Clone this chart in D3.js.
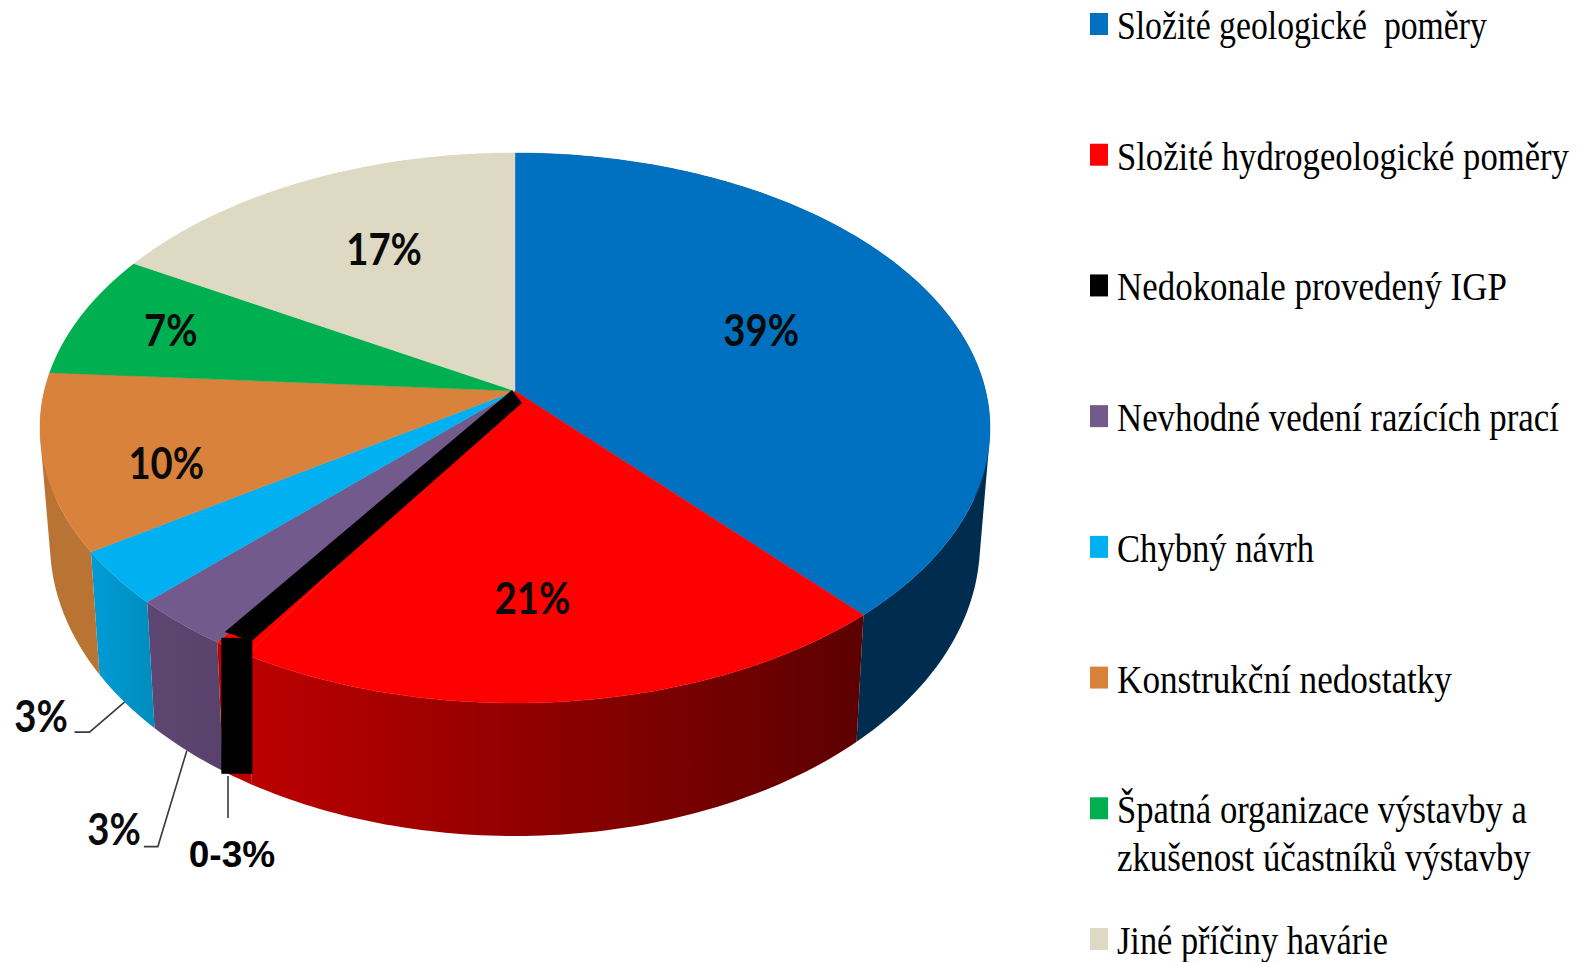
<!DOCTYPE html>
<html>
<head>
<meta charset="utf-8">
<script src="https://cdn.jsdelivr.net/npm/d3@7"></script>
<style>
    html, body { margin: 0; padding: 0; background: #fff; }
    svg { display: block; }
</style>
</head>
<body>
<svg id="chart" width="1581" height="962"></svg>
<script>
// slices (the printed labels are rounded and add up to more than 100)
const categories = [
    'Složité geologické  poměry',
    'Složité hydrogeologické poměry',
    'Nedokonale provedený IGP',
    'Nevhodné vedení razících prací',
    'Chybný návrh',
    'Konstrukční nedostatky',
    'Špatná organizace výstavby a|zkušenost účastníků výstavby',
    'Jiné příčiny havárie'
];
const sliceValues = [38.4, 20.0, 1.1, 3.0, 3.2, 10.4, 7.3, 16.6];
const sliceLabels = ['39%', '21%', '0-3%', '3%', '3%', '10%', '7%', '17%'];
const legendColors = ['#0070c0', '#ff0000', '#000000', '#725a8c', '#00b0f0', '#d9823c', '#00b050', '#ddd9c3'];
// the black slice is red underneath, the black is painted over it further down
const topColors = ['#0070c0', '#ff0000', '#ff0000', '#725a8c', '#00b0f0', '#d9823c', '#00b050', '#ddd9c3'];
const wallColors = [
    ['#002d4f', '#002d4f'],
    ['#bc0000', '#5c0000'],
    ['#bc0000', '#bc0000'],
    ['#5e4672', '#58426a'],
    ['#009cd6', '#008cbc'],
    ['#b97434', '#b97434'],
    ['#00b050', '#00b050'],
    ['#ddd9c3', '#ddd9c3']
];
const legendWidths = [370, 452, 390, 442, 197, 335, 410, 271];
const legendWidthSecondLine = 414;

const svg = d3.select('#chart');
const cx = 515;

// the pie is a perspective picture: apex sits above the middle of the ellipse
const topDisc = { cy: 428, rx: 475, ry: 275, shift: -37 };
const bottomDisc = { cy: 543, rx: 465, ry: 293, shift: -40 };

const project = (disc, angle, r) => {
    const u = r * Math.sin(angle);
    const v = -r * Math.cos(angle);
    const c = disc.shift / disc.ry;
    const w = c * v + 1;
    return [
        cx + disc.rx * Math.sqrt(1 - c * c) * u / w,
        disc.cy + (disc.ry * v + disc.shift) / w
    ];
};

const arcs = d3.pie().sort(null).value(d => d)(sliceValues);
const line = d3.line();

const sampleAngles = (a0, a1) => {
    const n = Math.max(4, Math.ceil((a1 - a0) * 60));
    return d3.range(n + 1).map(i => a0 + (a1 - a0) * i / n);
};

const defs = svg.append('defs');
const walls = svg.append('g');
const tops = svg.append('g');

arcs.forEach((d, i) => {
    const angles = sampleAngles(d.startAngle, d.endAngle);
    const upper = angles.map(a => project(topDisc, a, 1));
    const lower = angles.map(a => project(bottomDisc, a, 1));

    const gradId = 'wall' + i;
    const xs = upper.map(p => p[0]).concat(lower.map(p => p[0]));
    const grad = defs.append('linearGradient')
        .attr('id', gradId)
        .attr('gradientUnits', 'userSpaceOnUse')
        .attr('x1', d3.min(xs)).attr('x2', d3.max(xs))
        .attr('y1', 0).attr('y2', 0);
    grad.append('stop').attr('offset', 0).attr('stop-color', wallColors[i][0]);
    grad.append('stop').attr('offset', 1).attr('stop-color', wallColors[i][1]);

    // one quad per step in a single path, so the outline follows the tangent between both discs
    const quads = d3.range(angles.length - 1).map(k => {
        const q = [upper[k], upper[k + 1], lower[k + 1], lower[k]];
        return d3.polygonArea(q) < 0 ? q.reverse() : q;
    });
    walls.append('path')
        .attr('d', quads.map(q => line(q) + 'Z').join(''))
        .attr('fill', 'url(#' + gradId + ')');
});

arcs.forEach((d, i) => {
    const rim = sampleAngles(d.startAngle, d.endAngle).map(a => project(topDisc, a, 1));
    tops.append('path')
        .attr('d', line([project(topDisc, 0, 0)].concat(rim)) + 'Z')
        .attr('fill', topColors[i])
        .attr('stroke', topColors[i])
        .attr('stroke-width', 0.4);
});

// the thin black slice is overdrawn by hand in the original: a thick band and a block
const blackArc = arcs[2];
const blackMid = (blackArc.startAngle + blackArc.endAngle) / 2;
const apex = project(topDisc, 0, 0);
const rimPoint = project(topDisc, blackMid, 1);
const dx = rimPoint[0] - apex[0];
const dy = rimPoint[1] - apex[1];
const len = Math.hypot(dx, dy);
const nx = -dy / len;
const ny = dx / len;
const along = (t, off) => [apex[0] + dx * t + nx * off, apex[1] + dy * t + ny * off];
const overlay = svg.append('g').attr('fill', '#000');
overlay.append('path').attr('d', line([
    along(0.004, 2.8), along(0.984, 17.1), along(0.948, -7.7), along(0.008, -13.6)
]) + 'Z');
overlay.append('rect')
    .attr('x', rimPoint[0] - 10.5)
    .attr('y', rimPoint[1] - 11)
    .attr('width', 31)
    .attr('height', 136);

// labels on the top face
const labelSpots = [
    { shift: -2.4, r: 0.587 },
    { shift: 3, r: 0.696 },
    null, null, null,
    { shift: -5, r: 0.76 },
    { shift: 0, r: 0.789 },
    { shift: 2, r: 0.64 }
];
const pctLabel = (x, y, text) => svg.append('text')
    .attr('transform', `translate(${x},${y}) scale(0.87,1)`)
    .attr('text-anchor', 'middle')
    .attr('font-family', 'Lato')
    .attr('font-weight', 700)
    .attr('font-size', 44)
    .attr('fill', '#0a0a0a')
    .text(text);

arcs.forEach((d, i) => {
    if (!labelSpots[i]) return;
    const mid = (d.startAngle + d.endAngle) / 2 + labelSpots[i].shift * Math.PI / 180;
    const p = project(topDisc, mid, labelSpots[i].r);
    pctLabel(p[0], p[1] + 16, sliceLabels[i]);
});

// leader lines for the three small slices
const leaderBends = [
    { slice: 4, bend: [-35, 30], end: [-50, 30], at: [41, 732] },
    { slice: 3, bend: [-29, 96], end: [-43, 96], at: [114, 845] }
];
const leaders = svg.append('g').attr('fill', 'none').attr('stroke', '#3a3a3a').attr('stroke-width', 1.6);
leaderBends.forEach(l => {
    const d = arcs[l.slice];
    const p = project(bottomDisc, (d.startAngle + d.endAngle) / 2, 1);
    leaders.append('path').attr('d', line([
        p,
        [p[0] + l.bend[0], p[1] + l.bend[1]],
        [p[0] + l.end[0], p[1] + l.end[1]]
    ]));
    pctLabel(l.at[0], l.at[1], sliceLabels[l.slice]);
});
leaders.append('path').attr('d', line([[228, 776], [228, 818]]));
svg.append('text')
    .attr('x', 232).attr('y', 867)
    .attr('text-anchor', 'middle')
    .attr('font-family', 'Liberation Sans')
    .attr('font-weight', 700)
    .attr('font-size', 37)
    .attr('fill', '#000')
    .text(sliceLabels[2]);

// legend, every line squeezed to the width it has in the picture
const legendY = d3.scaleLinear().domain([0, categories.length - 1]).range([13, 928]);
const legend = svg.append('g').selectAll('g').data(categories).enter().append('g')
    .attr('transform', (d, i) => `translate(1090,${legendY(i)})`);
legend.append('rect')
    .attr('width', 18).attr('height', 22)
    .attr('fill', (d, i) => legendColors[i]);
legend.each(function (d, i) {
    d.split('|').forEach((part, j) => {
        const t = d3.select(this).append('text')
            .style('white-space', 'pre')
            .attr('font-family', 'Liberation Serif')
            .attr('font-size', 41)
            .attr('fill', '#000')
            .text(part);
        const wanted = j ? legendWidthSecondLine : legendWidths[i];
        const sx = wanted / t.node().getComputedTextLength();
        t.attr('transform', `translate(27,${26 + j * 48}) scale(${sx},1)`);
    });
});
</script>
</body>
</html>
